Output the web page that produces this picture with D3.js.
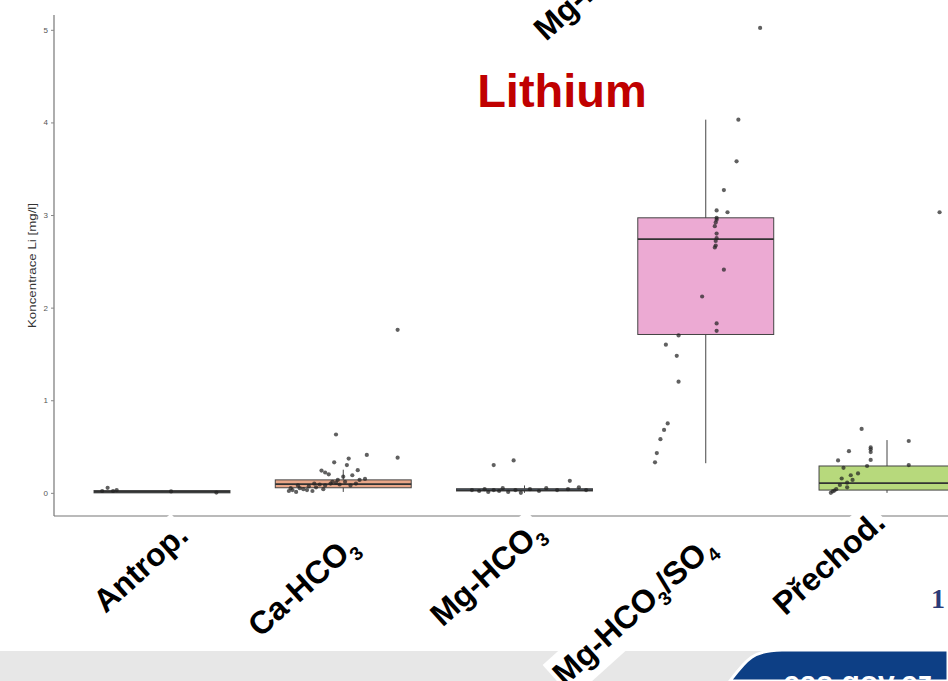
<!DOCTYPE html>
<html><head><meta charset="utf-8">
<script src="https://cdn.jsdelivr.net/npm/d3@7"></script>
<style>body{margin:0;background:#fff;overflow:hidden}svg{display:block}</style>
</head><body>
<svg id="c" width="948" height="681"></svg>
<script>
// ---- data ----
const categories = ["Antrop.", "Ca-HCO3", "Mg-HCO3", "Mg-HCO3/SO4", "Přechod."];
const boxLow    = [0.00, 0.01, 0.00, 0.32, 0.00];
const boxQ1     = [0.00, 0.055, 0.02, 1.71, 0.03];
const boxMedian = [0.01, 0.095, 0.03, 2.74, 0.105];
const boxQ3     = [0.025, 0.14, 0.045, 2.97, 0.29];
const boxHigh   = [0.03, 0.25, 0.08, 4.03, 0.57];
const boxFill   = ["#8fb3a8", "#e9a688", "#7f9fc9", "#ecaad3", "#b7d97c"];
const yTicks = [0, 1, 2, 3, 4, 5];

const antropJitter = [-0.30, 0.05, 0.30, -0.33, -0.27, -0.25];
const antropValues = [0.054, 0.015, 0.003, 0.02, 0.02, 0.03];
const caJitter = [-0.04, 0.30, 0.13, 0.30, 0.03, -0.05, 0.02, 0.08, -0.12, -0.10, -0.08, 0.05, 0.12, 0.09, 0.00, -0.03,
  -0.30, -0.28, -0.26, -0.24, -0.22, -0.19, -0.17, -0.15, -0.13, -0.10, -0.07, -0.04, -0.02, 0.01, 0.04, 0.07,
  -0.29, -0.25, -0.20, -0.16, -0.11, -0.06];
const caValues = [0.63, 1.76, 0.41, 0.38, 0.37, 0.33, 0.30, 0.245, 0.24, 0.22, 0.20, 0.19, 0.15, 0.14, 0.175, 0.14,
  0.02, 0.03, 0.01, 0.05, 0.04, 0.07, 0.02, 0.06, 0.09, 0.08, 0.10, 0.11, 0.09, 0.12, 0.08, 0.10,
  0.05, 0.08, 0.03, 0.10, 0.04, 0.12];
const mgJitter = [-0.17, -0.06, 0.25, -0.29, -0.25, -0.22, -0.20, -0.17, -0.14, -0.12, -0.09, -0.05, -0.02, 0.03, 0.08, 0.12, 0.18, 0.24, 0.30, 0.34];
const mgValues = [0.30, 0.35, 0.13, 0.03, 0.02, 0.04, 0.01, 0.03, 0.02, 0.05, 0.01, 0.03, 0.00, 0.04, 0.02, 0.05, 0.03, 0.04, 0.06, 0.03];
const mgsoJitter = [0.18, 0.17, 0.10, 0.06, 0.12, 0.06, 0.06, 0.055, 0.05, 0.06, 0.06, 0.055, 0.055, 0.05, 0.10, -0.02, 0.06, 0.06, -0.15, -0.22, -0.16, -0.15, -0.21, -0.23, -0.25, -0.27, -0.28, 0.30];
const mgsoValues = [4.03, 3.58, 3.27, 3.05, 3.03, 2.97, 2.95, 2.92, 2.88, 2.80, 2.75, 2.72, 2.67, 2.65, 2.41, 2.12, 1.83, 1.75, 1.70, 1.60, 1.48, 1.20, 0.75, 0.68, 0.58, 0.43, 0.33, 5.02];
const prechJitter = [-0.14, 0.12, -0.21, -0.09, -0.09, -0.09, -0.27, -0.09, -0.11, 0.12, -0.24, -0.16, -0.20, -0.25, -0.19, -0.22, -0.26, -0.22, -0.28, -0.30, -0.31, -0.29, 0.29];
const prechValues = [0.69, 0.56, 0.45, 0.49, 0.47, 0.44, 0.35, 0.355, 0.29, 0.30, 0.27, 0.21, 0.19, 0.155, 0.14, 0.11, 0.085, 0.06, 0.04, 0.015, 0.0, 0.025, 3.03];

const pointJitter = [antropJitter, caJitter, mgJitter, mgsoJitter, prechJitter];
const pointValues = [antropValues, caValues, mgValues, mgsoValues, prechValues];

// label parts (subscripts)
const labelParts = [
  [["Antrop.", false]],
  [["Ca-HCO", false], ["3", true]],
  [["Mg-HCO", false], ["3", true]],
  [["Mg-HCO", false], ["3", true], ["/SO", false], ["4", true]],
  [["Přechod.", false]]
];
// layout (label anchor offsets from category centre)
const labelDx = [28, 16, 21, 11, 0];
const labelDy = [22, 33, 19, 34, 9];

// ---- drawing ----
const svg = d3.select("#c");
const W = 948, H = 681;
const panel = {left: 54, top: 15, bottom: 516};
const fontLab = "Liberation Sans, Arial, sans-serif";
const labAngle = -42, labSize = 32;

const x = d3.scalePoint().domain(categories).range([162, 887]);
const step = x.step();
const y = d3.scaleLinear().domain([-0.25, 5.16]).range([panel.bottom, panel.top]);
const bw = step * 0.75;

// bottom slide band
svg.append("rect").attr("x", 0).attr("y", 651).attr("width", W).attr("height", 30).attr("fill", "#e7e7e7");
svg.append("path")
  .attr("d", "M730,681 C746,660 753,650 782,650 L948,650 L948,681 Z")
  .attr("fill", "#0d3f85").attr("stroke", "#fff").attr("stroke-width", 3);
svg.append("text").attr("x", 783).attr("y", 692).attr("fill", "#fff")
  .attr("font-family", fontLab).attr("font-weight", "bold").attr("font-size", 30)
  .text("cas.gov.cz");

// axes lines
svg.append("line").attr("x1", panel.left).attr("x2", panel.left).attr("y1", panel.top).attr("y2", panel.bottom)
  .attr("stroke", "#777").attr("stroke-width", 1.2);
svg.append("line").attr("x1", panel.left).attr("x2", W).attr("y1", panel.bottom).attr("y2", panel.bottom)
  .attr("stroke", "#777").attr("stroke-width", 1.2);

// y axis
const yAxis = d3.axisLeft(y).tickValues(yTicks).tickSize(3).tickPadding(3).tickFormat(d3.format("d"));
const gy = svg.append("g").attr("transform", `translate(${panel.left},0)`).call(yAxis);
gy.select(".domain").remove();
gy.selectAll("line").attr("stroke", "#888");
gy.selectAll("text").attr("font-family", fontLab).attr("font-size", 8).attr("fill", "#555");

svg.append("text").attr("transform", `translate(36,${(panel.top + panel.bottom) / 2}) rotate(-90)`)
  .attr("text-anchor", "middle").attr("font-family", fontLab)
  .attr("font-size", 11).attr("fill", "#333")
  .attr("textLength", 125).attr("lengthAdjust", "spacingAndGlyphs")
  .text("Koncentrace Li [mg/l]");

// boxes
const boxes = categories.map((c, i) => ({c, i}));
const gb = svg.append("g");
gb.selectAll("line.wh").data(boxes).join("line")
  .attr("x1", d => x(d.c)).attr("x2", d => x(d.c))
  .attr("y1", d => y(boxHigh[d.i])).attr("y2", d => y(boxLow[d.i]))
  .attr("stroke", "#444").attr("stroke-width", 1);
gb.selectAll("rect.box").data(boxes).join("rect")
  .attr("x", d => x(d.c) - bw / 2).attr("width", bw)
  .attr("y", d => y(boxQ3[d.i])).attr("height", d => Math.max(1, y(boxQ1[d.i]) - y(boxQ3[d.i])))
  .attr("fill", d => boxFill[d.i]).attr("stroke", "#444").attr("stroke-width", 1);
gb.selectAll("line.med").data(boxes).join("line")
  .attr("x1", d => x(d.c) - bw / 2).attr("x2", d => x(d.c) + bw / 2)
  .attr("y1", d => y(boxMedian[d.i])).attr("y2", d => y(boxMedian[d.i]))
  .attr("stroke", "#333").attr("stroke-width", 1.8);

// points
const pts = [];
categories.forEach((c, i) => pointValues[i].forEach((v, k) => pts.push({c, v, j: pointJitter[i][k]})));
svg.append("g").selectAll("circle").data(pts).join("circle")
  .attr("cx", d => x(d.c) + d.j * step).attr("cy", d => y(d.v)).attr("r", 2.1)
  .attr("fill", "#222").attr("fill-opacity", 0.72);

// category labels
categories.forEach((c, i) => {
  const g = svg.append("g").attr("transform", `translate(${x(c) + labelDx[i]},${panel.bottom + labelDy[i]}) rotate(${labAngle})`);
  const t = g.append("text").attr("text-anchor", "end").attr("font-family", fontLab)
    .attr("font-weight", "bold").attr("font-size", labSize).attr("fill", "#000");
  labelParts[i].forEach(([s, sub], k) => {
    const ts = t.append("tspan").text(s);
    if (sub) ts.attr("font-size", labSize * 0.6).attr("dy", 8);
    else if (k > 0) ts.attr("dy", -8);
  });
  const bb = t.node().getBBox();
  g.insert("rect", "text").attr("x", bb.x - 2).attr("y", bb.y - 2).attr("width", bb.width + 4).attr("height", bb.height + 4).attr("fill", "#fff");
});

// fragment of label from chart above (cut by the slide edge)
svg.append("text").attr("transform", "translate(546,42) rotate(-42)")
  .attr("font-family", fontLab).attr("font-weight", "bold").attr("font-size", labSize).text("Mg-HCO");

// title
svg.append("text").attr("x", 562).attr("y", 107).attr("text-anchor", "middle")
  .attr("font-family", fontLab).attr("font-weight", "bold").attr("font-size", 47).attr("fill", "#c00000").text("Lithium");

// slide number fragment
svg.append("text").attr("x", 931).attr("y", 608).attr("font-family", "Liberation Serif, serif")
  .attr("font-weight", "bold").attr("font-size", 28).attr("fill", "#2b3b78").text("1");
</script>
</body></html>
